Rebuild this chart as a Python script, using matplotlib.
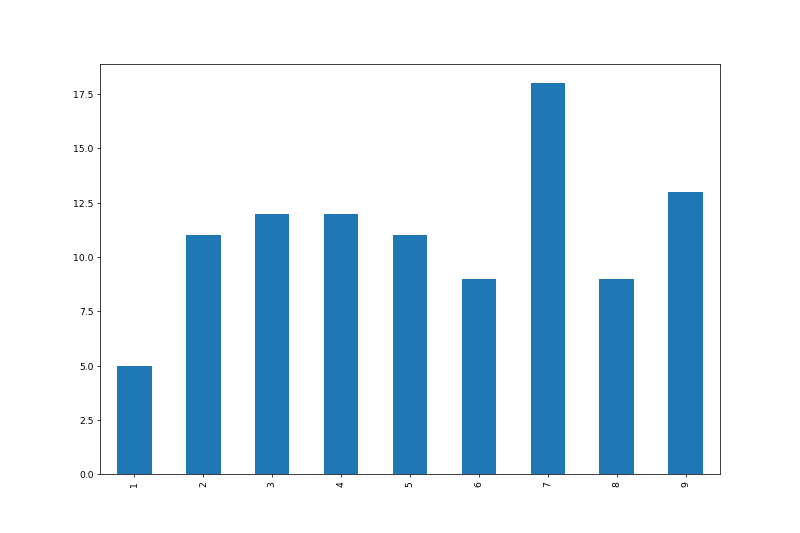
import pandas as pd
import matplotlib
matplotlib.use('Agg')
import matplotlib.pyplot as plt

# 数据
categories = [1, 2, 3, 4, 5, 6, 7, 8, 9]
counts = [5, 11, 12, 12, 11, 9, 18, 9, 13]

s = pd.Series(counts, index=categories)

fig = plt.figure(figsize=(12, 8), dpi=800 / 12)
ax = fig.add_subplot(111)
s.plot(kind='bar', ax=ax, color='#1f77b4')

fig.savefig('out.png', dpi=800 / 12)
